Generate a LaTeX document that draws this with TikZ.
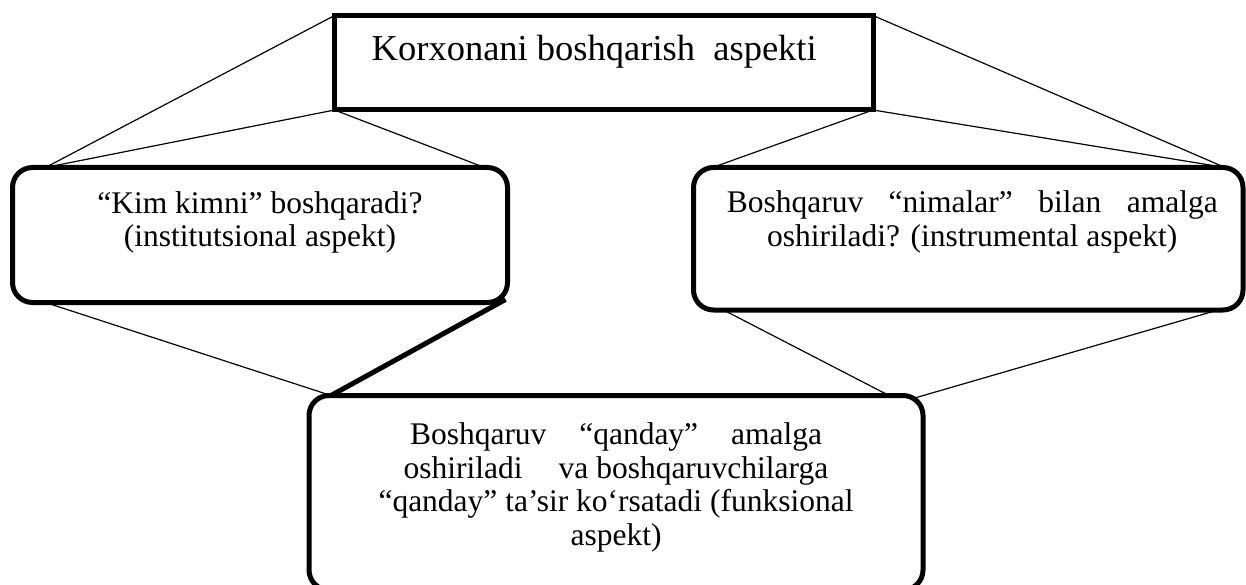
\documentclass[tikz,border=0pt]{standalone}
\usepackage{fontspec}
\setmainfont{Liberation Serif}
\usetikzlibrary{calc}

\tikzset{
  aspbox/.style={draw, line width=5pt, rounded corners=20pt, inner sep=0pt, outer sep=0pt,
    font=\fontsize{31.5}{33.5}\selectfont},
  link/.style={line width=1.2pt},
}
\newcommand{\boxtext}[4]{\parbox[c][#2][t]{#1}{\centering\rule{0pt}{#3}#4}}

\begin{document}
\begin{tikzpicture}[x=1pt,y=-1pt]
      \useasboundingbox (0,0) rectangle (1246,585) ;
      \node[aspbox, rounded corners=0pt, font=\fontsize{36.5}{40}\selectfont] (top) at (603.75,62.75)
        {\boxtext{538.5pt}{94.5pt}{45.5pt}{Korxonani boshqarish\ \ aspekti\hspace*{19pt}}} ;
      \node[aspbox] (kim) at (260,235)
        {\boxtext{495pt}{135pt}{46pt}{“Kim kimni” boshqaradi?\\(institutsional aspekt)}} ;
      \node[aspbox] (nima) at (968.25,238.75)
        {\boxtext{549.5pt}{142.5pt}{45pt}{\hspace*{8pt}\makebox[491pt][s]{Boshqaruv “nimalar” bilan amalga}\\\hspace*{8pt}oshiriladi? (instrumental aspekt)}} ;
      \node[aspbox] (qanday) at (616,492.75)
        {\boxtext{614pt}{194.5pt}{49pt}{\makebox[412pt][s]{Boshqaruv “qanday” amalga}\\oshiriladi\hspace{36pt}va boshqaruvchilarga\\“qanday” ta’sir ko‘rsatadi (funksional\\aspekt)}} ;
      % top box to the side boxes
      \draw[link] (top.north west) -- ($(kim.north west)+(33,0)$) ;
      \draw[link] (top.south west) -- ($(kim.north west)+(33,0)$) ;
      \draw[link] (top.south west) -- ($(kim.north east)+(-23,0)$) ;
      \draw[link] (top.north east) -- ($(nima.north east)+(-18,0)$) ;
      \draw[link] (top.south east) -- ($(nima.north east)+(-18,0)$) ;
      \draw[link] (top.south east) -- ($(nima.north west)+(19,0)$) ;
      % side boxes to the bottom box
      \draw[link] ($(kim.south west)+(33,0)$) -- ($(qanday.north west)+(22,0)$) ;
      \draw[line width=5pt] ($(kim.south east)+(-2,-3)$) -- ($(qanday.north west)+(22,0)$) ;
      \draw[link] ($(nima.south west)+(30,0)$) -- ($(qanday.north east)+(-34,0)$) ;
      \draw[link] ($(nima.south east)+(-25,0)$) -- ($(qanday.north east)+(-10,3)$) ;
    \end{tikzpicture}
\end{document}
